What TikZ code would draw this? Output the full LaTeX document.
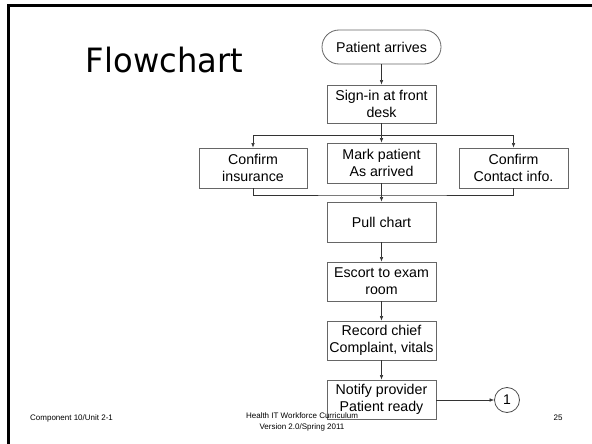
\documentclass[tikz,border=0pt]{standalone}
\usepackage{fontspec}
\usepackage{graphicx}
\setmainfont{Liberation Sans}
\newfontfamily\titlefont{DejaVu Sans}
\usetikzlibrary{arrows.meta}
\tikzset{
  box/.style={draw=black!60, line width=0.8pt, fill=white, minimum width=109pt, minimum height=39pt, inner sep=0pt, align=center, font=\fontsize{14.2}{17}\selectfont},
  term/.style={box, rounded corners=17pt, minimum width=119pt, minimum height=34pt},
  conn/.style={draw=black!80, line width=0.6pt},
  arr/.style={conn, -{Latex[length=4.5pt,width=3.5pt]}},
  foot/.style={font=\fontsize{8}{11}\selectfont, inner sep=0pt, align=center},
  frame/.style={line width=3pt, black}
}
\begin{document}
\begin{tikzpicture}[x=1pt, y=-1pt]
\useasboundingbox (0,0) rectangle (592,444);
\fill[white] (0,0) rectangle (592,444);
\draw[frame] (8.3,5.7) -- (592,5.7);
\draw[frame] (8.3,4.2) -- (8.3,444);
\node[anchor=base, inner sep=0pt, font=\titlefont\fontsize{33.5}{38}\selectfont] (title) at (164.5,72.7) {\scalebox{0.96}[1]{Flowchart}};
\node[term] (arrive) at (381.5,47) {Patient arrives};
\node[box, minimum height=38pt] (sign) at (381.5,104) {Sign-in at front\\desk};
\node[box, minimum width=108pt, minimum height=40pt] (ins) at (253,168) {Confirm\\insurance};
\node[box, minimum height=40pt] (mark) at (381.5,163) {Mark patient\\As arrived};
\node[box, minimum height=40pt] (contact) at (513.5,168) {Confirm\\Contact info.};
\node[box, minimum height=40pt] (pull) at (381.5,222) {Pull chart};
\node[box] (escort) at (381.5,281.5) {Escort to exam\\room};
\node[box] (record) at (381.5,340.5) {Record chief\\Complaint, vitals};
\node[box] (notify) at (381.5,399.5) {Notify provider\\Patient ready};
\node[draw=black!70, line width=0.8pt, circle, minimum size=25pt, inner sep=0pt, font=\fontsize{14}{16}\selectfont] (c1) at (507,400) {1};
\coordinate (bus1) at (381.5,135);
\coordinate (bus2) at (381.5,195);
\draw[arr] (arrive) -- (sign);
\draw[arr] (sign) -- (mark);
\draw[arr] (bus1) -| (ins.north);
\draw[arr] (bus1) -| (contact.north);
\draw[conn] (ins.south) |- (bus2) -| (contact.south);
\draw[arr] (mark) -- (pull);
\draw[arr] (pull) -- (escort);
\draw[arr] (escort) -- (record);
\draw[arr] (record) -- (notify);
\draw[arr] (notify.east |- c1) -- (c1);
\node[foot, anchor=base west] (comp) at (30,420) {Component 10/Unit 2-1};
\node[foot, anchor=north] (hit) at (302,412) {Health IT Workforce Curriculum\\Version 2.0/Spring 2011};
\node[foot, anchor=base] (page) at (558,420) {25};
\end{tikzpicture}
\end{document}
